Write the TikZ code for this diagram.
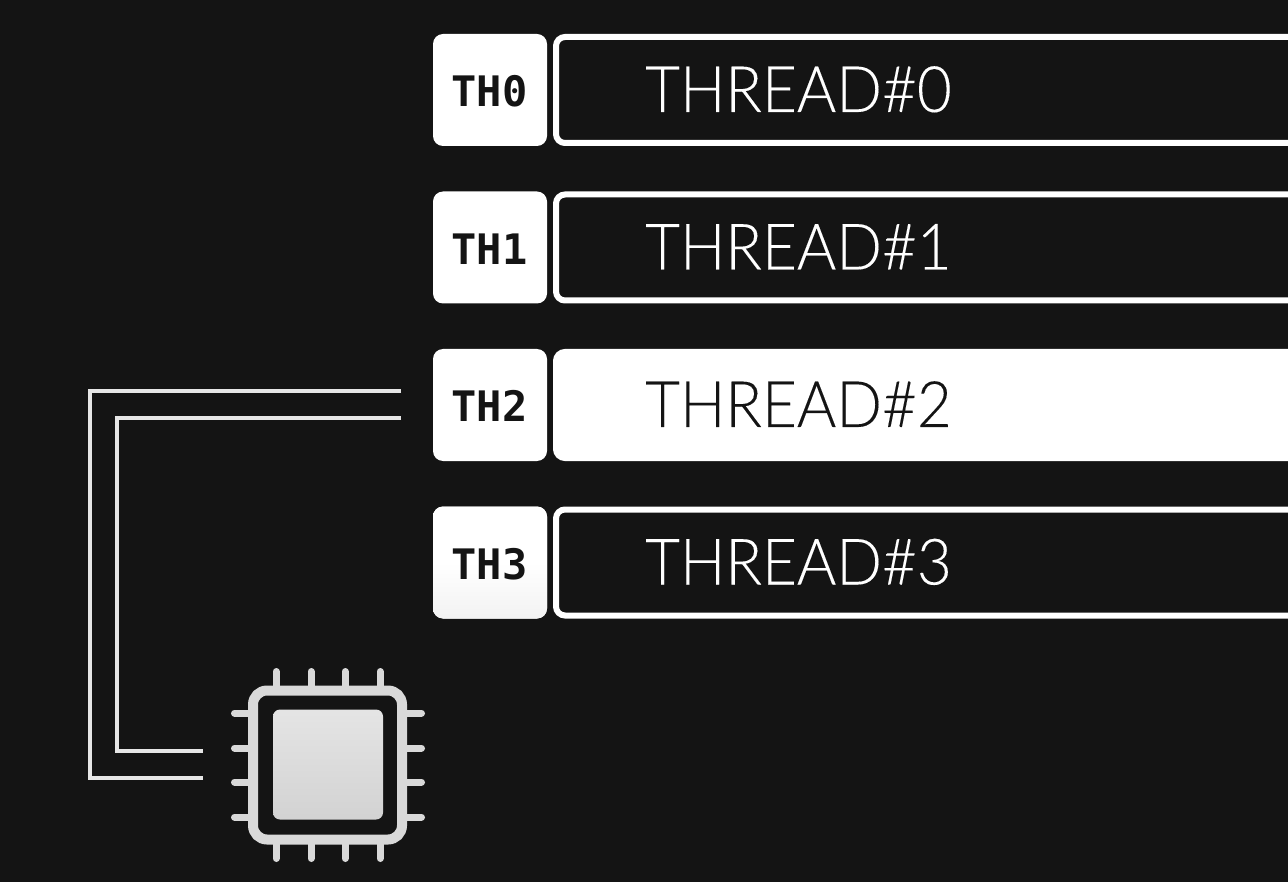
\documentclass[tikz,border=0pt]{standalone}
\usepackage{fontspec}
\setmainfont{Liberation Sans}
\newfontfamily\threadfont[FakeStretch=0.94, FakeBold=0.12]{Lato Light}
\newfontfamily\tagfont{DejaVu Sans Mono}
\definecolor{bgdark}{HTML}{141414}
\definecolor{chipgrey}{HTML}{D9D9D9}
\definecolor{wiregrey}{HTML}{E6E6E6}
\tikzset{
	tagbox/.style = {rectangle, rounded corners = 10pt, fill = white, minimum width = 114pt, minimum height = 112pt, inner sep = 0pt},
	tagfade/.style = {tagbox, top color = white, bottom color = white!95!black, middle color = white},
	tagtext/.style = {anchor = base, text = bgdark, font = \tagfont\bfseries\fontsize{42}{42}\selectfont},
	barbox/.style = {rectangle, rounded corners = 9pt, draw = white, line width = 6pt, fill = bgdark, minimum width = 800pt, minimum height = 106pt, inner sep = 0pt, anchor = west},
	baractive/.style = {barbox, fill = white},
	bartext/.style = {anchor = base west, inner sep = 0pt, text = white, font = \threadfont\fontsize{64}{64}\selectfont},
	wire/.style = {draw = wiregrey, line width = 4pt},
	pin/.style = {draw = chipgrey, line width = 7pt, line cap = round}
}
\begin{document}
\begin{tikzpicture}[x = 1pt, y = -1pt]
	\fill[bgdark] (0, 0) rectangle (1288, 882);
	\useasboundingbox (0, 0) rectangle (1288, 882);
	\clip (0, 0) rectangle (1288, 882);
	% thread rows
	\foreach \n/\y/\tagstyle/\barstyle/\barcolor in {0/90/tagbox/barbox/white, 1/247.5/tagbox/barbox/white, 2/405/tagbox/baractive/bgdark, 3/562.5/tagfade/barbox/white} {
		\node[\tagstyle] (tag\n) at (490, \y) {};
		\node[tagtext] (taglabel\n) at (489.5, \y + 17) {TH\n};
		\node[\barstyle] (bar\n) at (553, \y) {};
		\node[bartext, text = \barcolor] (barlabel\n) at (645, \y + 22) {THREAD\#\n};
	}
	% chip
	\foreach \p in {276, 311, 345, 380} {
		\draw[pin] (\p, 671.5) -- (\p, 690);
		\draw[pin] (\p, 840) -- (\p, 858.5);
	}
	\foreach \p in {713, 748, 782, 817} {
		\draw[pin] (234.5, \p) -- (253, \p);
		\draw[pin] (403, \p) -- (421.5, \p);
	}
	\node[rectangle, rounded corners = 14pt, draw = chipgrey, line width = 10pt, fill = bgdark, minimum size = 149pt, inner sep = 0pt] (chip) at (327.5, 765) {};
	\node[rectangle, rounded corners = 7pt, top color = chipgrey!70!white, bottom color = chipgrey!97!black, minimum size = 110pt, inner sep = 0pt] (core) at (328, 764.5) {};
	% wires
	\coordinate (wireAtop) at (401, 391);
	\coordinate (wireAbottom) at (203, 778);
	\coordinate (wireBtop) at (401, 418.5);
	\coordinate (wireBbottom) at (203, 751);
	\draw[wire] (wireAtop) -- (89.5, 391) -- (89.5, 778) -- (wireAbottom);
	\draw[wire] (wireBtop) -- (117, 418.5) -- (117, 751) -- (wireBbottom);
\end{tikzpicture}
\end{document}
